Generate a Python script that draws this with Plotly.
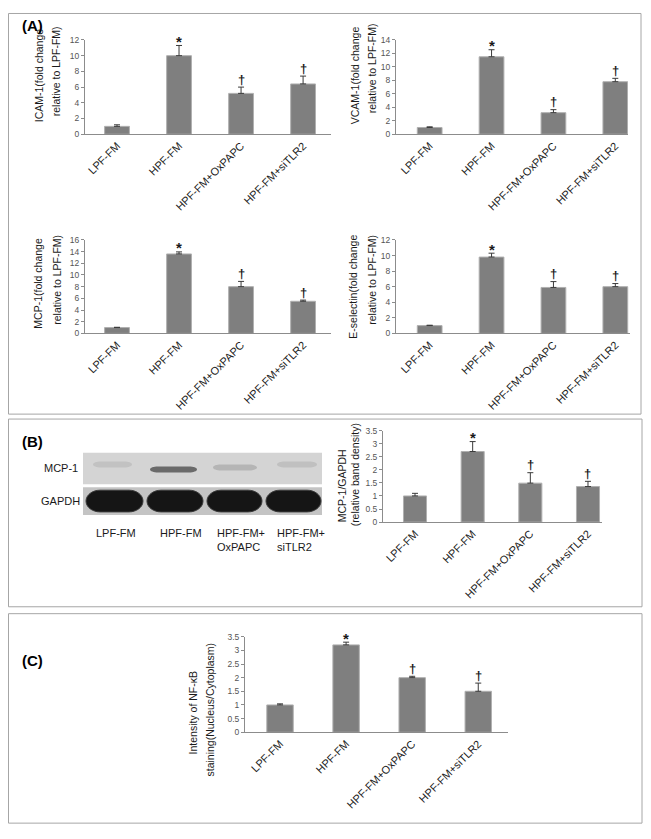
import plotly.graph_objects as go

# the page body has an 8px default margin: the figure is drawn from (8, 8) of the window
OFF = 8
W, H = 651 - OFF, 839 - OFF

categories = ["LPF-FM", "HPF-FM", "HPF-FM+OxPAPC", "HPF-FM+siTLR2"]
sig_marks = ["", "*", "†", "†"]

icam_mean = [1.0, 10.0, 5.2, 6.4]
icam_err = [0.2, 1.3, 0.8, 1.0]
vcam_mean = [1.0, 11.5, 3.2, 7.8]
vcam_err = [0.1, 1.05, 0.45, 0.5]
mcp1_mean = [1.0, 13.6, 8.0, 5.5]
mcp1_err = [0.05, 0.35, 0.9, 0.2]
esel_mean = [1.0, 9.8, 5.9, 6.0]
esel_err = [0.05, 0.5, 0.75, 0.4]
blot_mean = [1.0, 2.7, 1.49, 1.36]
blot_err = [0.1, 0.38, 0.4, 0.2]
nfkb_mean = [1.0, 3.2, 2.0, 1.5]
nfkb_err = [0.04, 0.1, 0.05, 0.3]

blot_lanes = ["LPF-FM", "HPF-FM", "HPF-FM+", "HPF-FM+"]
blot_lanes2 = ["", "", "OxPAPC", "siTLR2"]


def px(x):
    return (x - OFF) / W


def py(y):
    return 1 - (y - OFF) / H


FONT = "Arial, Liberation Sans, sans-serif"
BAR = "#7f7f7f"
AX = "#8c8c8c"

charts = [
    dict(mean=icam_mean, err=icam_err, ymax=12, dtick=2, xd=(85, 331), xr=(-0.516, 3.45), yd=(35.3, 130.7),
         titles=[("ICAM-1(fold change", 39, 71), ("relative to LPF-FM)", 56, 67)]),
    dict(mean=vcam_mean, err=vcam_err, ymax=14, dtick=2, xd=(396, 628), xr=(-0.544, 3.205), yd=(35.3, 130.7),
         titles=[("VCAM-1(fold change", 355, 71), ("relative to LPF-FM)", 372, 64)]),
    dict(mean=mcp1_mean, err=mcp1_err, ymax=16, dtick=2, xd=(85, 331), xr=(-0.516, 3.45), yd=(237.7, 332.3),
         titles=[("MCP-1(fold change", 38, 282), ("relative to LPF-FM)", 57, 278)]),
    dict(mean=esel_mean, err=esel_err, ymax=12, dtick=2, xd=(396, 630), xr=(-0.544, 3.237), yd=(237.7, 332.3),
         titles=[("E-selectin(fold change", 353, 285), ("relative to LPF-FM)", 372, 278)]),
    dict(mean=blot_mean, err=blot_err, ymax=3.5, dtick=0.5, xd=(383, 602), xr=(-0.555, 3.243), yd=(430.7, 523.3),
         titles=[("MCP-1/GAPDH", 342, 487), ("(relative band density)", 355, 476)]),
    dict(mean=nfkb_mean, err=nfkb_err, ymax=3.5, dtick=0.5, xd=(245, 508), xr=(-0.53, 3.45), yd=(639.3, 736),
         titles=[("Intensity of NF-κB", 193, 717), ("staining(Nucleus/Cytoplasm)", 210, 713)]),
]

fig = go.Figure()
annotations = []
shapes = []
layout = {}

for i, c in enumerate(charts, start=1):
    xa = "x" if i == 1 else f"x{i}"
    ya = "y" if i == 1 else f"y{i}"
    fig.add_trace(go.Bar(
        x=categories, y=c["mean"], xaxis=xa, yaxis=ya,
        marker=dict(color=BAR, line=dict(color="#b0b0b0", width=1)),
        error_y=dict(type="data", array=c["err"], arrayminus=[0] * len(c["err"]), symmetric=False,
                     color="#3a3a3a", thickness=1, width=3),
        showlegend=False, hoverinfo="skip",
    ))
    xkey = "xaxis" if i == 1 else f"xaxis{i}"
    ykey = "yaxis" if i == 1 else f"yaxis{i}"
    layout[xkey] = dict(
        domain=[px(c["xd"][0]), px(c["xd"][1])], anchor=ya, range=list(c["xr"]),
        showline=True, linecolor=AX, linewidth=1, ticks="", tickangle=-45,
        tickfont=dict(family=FONT, size=11, color="#1a1a1a"), showgrid=False, zeroline=False,
        fixedrange=True,
    )
    layout[ykey] = dict(
        domain=[py(c["yd"][1]), py(c["yd"][0])], anchor=xa, range=[0, c["ymax"]],
        tick0=0, dtick=c["dtick"], showline=True, linecolor=AX, linewidth=1,
        ticks="outside", ticklen=3, tickcolor=AX, tickwidth=1,
        tickfont=dict(family=FONT, size=8.5, color="#555555"), showgrid=False, zeroline=False,
        fixedrange=True,
    )
    for txt, tx, ty in c["titles"]:
        annotations.append(dict(text=txt, x=px(tx), y=py(ty), xref="paper", yref="paper",
                                xanchor="center", yanchor="middle", textangle=-90, showarrow=False,
                                font=dict(family=FONT, size=10.5, color="#1a1a1a")))
    for cat, m, e, mk in zip(categories, c["mean"], c["err"], sig_marks):
        if mk:
            annotations.append(dict(text=f"<b>{mk}</b>", x=cat, y=m + e, xref=xa, yref=ya, showarrow=False,
                                    xanchor="center", yanchor="middle", yshift=4 if mk == "*" else 8,
                                    font=dict(family=FONT, size=15 if mk == "*" else 13, color="#1a1a1a")))

# panel borders
for (x0, y0, x1, y1) in [(8.5, 8.5, 641, 414), (8.5, 419, 642, 609), (8.5, 616, 642, 828)]:
    shapes.append(dict(type="rect", xref="paper", yref="paper", x0=px(x0), x1=px(x1), y0=py(y1), y1=py(y0),
                       line=dict(color="#a6a6a6", width=1), fillcolor="rgba(0,0,0,0)", layer="below"))

# panel letters
for lab, lx, ly in [("(A)", 32, 21), ("(B)", 32, 442), ("(C)", 32, 663)]:
    annotations.append(dict(text=f"<b>{lab}</b>", x=px(lx), y=py(ly), xref="paper", yref="paper",
                            showarrow=False, xanchor="center", yanchor="middle",
                            font=dict(family=FONT, size=15, color="#000000")))


def stadium(x0, x1, y0, y1, r):
    """Rounded band outline (pixel coords -> paper path)."""
    k = 0.5523
    cy = (y0 + y1) / 2
    hh = (y1 - y0) / 2

    def p(x, y):
        return f"{px(x):.5f},{py(y):.5f}"

    return (f"M {p(x0 + r, y0)} L {p(x1 - r, y0)} "
            f"C {p(x1 - r + k * r, y0)} {p(x1, cy - k * hh)} {p(x1, cy)} "
            f"C {p(x1, cy + k * hh)} {p(x1 - r + k * r, y1)} {p(x1 - r, y1)} "
            f"L {p(x0 + r, y1)} "
            f"C {p(x0 + r - k * r, y1)} {p(x0, cy + k * hh)} {p(x0, cy)} "
            f"C {p(x0, cy - k * hh)} {p(x0 + r - k * r, y0)} {p(x0 + r, y0)} Z")


# western blot (illustrative image)
shapes.append(dict(type="rect", xref="paper", yref="paper", x0=px(83), x1=px(322), y0=py(485), y1=py(453),
                   line=dict(width=0), fillcolor="#d4d4d4", layer="below"))
shapes.append(dict(type="rect", xref="paper", yref="paper", x0=px(83), x1=px(322), y0=py(516), y1=py(488),
                   line=dict(width=0), fillcolor="#c4c4c4", layer="below"))
gapdh_bands = [(86, 143), (147, 203), (207, 262), (266, 321)]
for bx0, bx1 in gapdh_bands:
    shapes.append(dict(type="path", xref="paper", yref="paper", path=stadium(bx0, bx1, 491, 513, 14),
                       line=dict(color="#3a3a3a", width=1), fillcolor="#151515"))
mcp_bands = [((93, 132), 465, "#c2c2c2"), ((150, 197), 470, "#6a6a6a"), ((213, 257), 468, "#b5b5b5"),
             ((277, 317), 465, "#c0c0c0")]
for (bx0, bx1), cy, col in mcp_bands:
    shapes.append(dict(type="path", xref="paper", yref="paper", path=stadium(bx0, bx1, cy - 3, cy + 3, 8),
                       line=dict(width=0), fillcolor=col))

annotations.append(dict(text="MCP-1", x=px(80), y=py(469), xref="paper", yref="paper", showarrow=False,
                        xanchor="right", yanchor="middle", font=dict(family=FONT, size=11, color="#1a1a1a")))
annotations.append(dict(text="GAPDH", x=px(82), y=py(502), xref="paper", yref="paper", showarrow=False,
                        xanchor="right", yanchor="middle", font=dict(family=FONT, size=11, color="#1a1a1a")))
lane_x = [(116, "center"), (181, "center"), (215, "left"), (275, "left")]
for (lx, anc), l1, l2 in zip(lane_x, blot_lanes, blot_lanes2):
    annotations.append(dict(text=l1, x=px(lx), y=py(534), xref="paper", yref="paper", showarrow=False,
                            xanchor=anc, yanchor="middle", font=dict(family=FONT, size=11, color="#1a1a1a")))
    if l2:
        annotations.append(dict(text=l2, x=px(lx), y=py(548), xref="paper", yref="paper", showarrow=False,
                                xanchor=anc, yanchor="middle", font=dict(family=FONT, size=11, color="#1a1a1a")))

fig.update_layout(
    width=W, height=H, autosize=False,
    margin=dict(l=0, r=0, t=0, b=0),
    paper_bgcolor="white", plot_bgcolor="white",
    bargap=0.6, showlegend=False,
    annotations=annotations, shapes=shapes,
    **layout,
)

fig.write_html("out.html")
